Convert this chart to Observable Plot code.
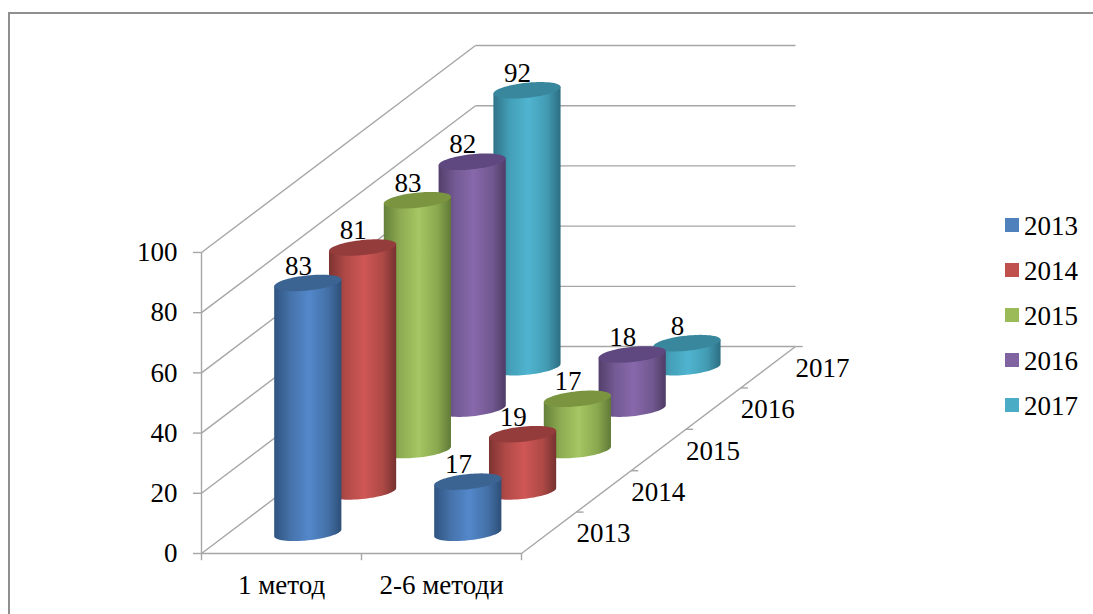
<!DOCTYPE html>
<html>
<head>
<meta charset="utf-8">
<script src="https://cdn.jsdelivr.net/npm/d3@7"></script>
<script src="https://cdn.jsdelivr.net/npm/@observablehq/plot@0.6"></script>
<style>
  html, body { margin: 0; padding: 0; background: #fff; }
  #page { position: relative; width: 1093px; height: 614px; overflow: hidden; font-family: "Liberation Serif", serif; color: #000; }
  #frame { position: absolute; left: 8px; top: 12px; width: 1100px; height: 620px; border: 2px solid #8f8f8f; box-sizing: border-box; }
  #chart { position: absolute; left: 0; top: 0; }
  #legend { position: absolute; left: 1005px; top: 203.5px; font-size: 27px; line-height: 45.1px; }
  #legend div { display: flex; align-items: center; height: 45.1px; }
  #legend i { display: block; width: 14px; height: 14px; margin-right: 5px; position: relative; top: -1.5px; }
</style>
</head>
<body>
<div id="page">
  <div id="frame"></div>
  <div id="chart"></div>
  <div id="legend"></div>
</div>
<script>
// Survey results by method group and year
const methods = ["1 метод", "2-6 методи"];
const years = ["2013", "2014", "2015", "2016", "2017"];
const oneMethod = [83, 81, 83, 82, 92];
const severalMethods = [17, 19, 17, 18, 8];
const valueTicks = [0, 20, 40, 60, 80, 100];

// Palette per year: legend colour, cap colour, shading stops across the cylinder
const baseColors = ["#4f81bd", "#c0504d", "#9bbb59", "#8064a2", "#4bacc6"];
const capColors = ["#3c6493", "#943c3b", "#7a9440", "#5f4880", "#38879c"];
const shades = [
  ["#2f5480", "#4673ab", "#5388cb", "#4470a6", "#2d4f78"],
  ["#7d3432", "#b04a48", "#cf5755", "#ad4946", "#763130"],
  ["#65803a", "#8eac52", "#a5c662", "#8aa84f", "#607a37"],
  ["#523f6b", "#745b94", "#8768ab", "#715890", "#4e3c66"],
  ["#2f7489", "#44a0b8", "#50b4d0", "#429bb3", "#2c6d81"]
];
const gridColor = "#a6a6a6";

// Oblique projection of (category, depth, value) onto the plot's x and y scales
const depthX = 0.3425;
const depthY = 13.75;
const px = (c, d) => c + d * depthX;
const py = (v, d) => v + d * depthY;
const maxDepth = years.length;

// Cylinder footprint, in category and depth units; rimSkew tilts the ellipse
const radiusC = 0.192;
const radiusD = 0.2;
const rimSkew = 0.085;
const tangent = Math.atan2(rimSkew, radiusC);
const shiftC = -0.007;

function rimPoint(c, d, v, t) {
  return {
    x: px(c + shiftC, d) + radiusC * Math.cos(t) + rimSkew * Math.sin(t),
    y: py(v, d) + radiusD * depthY * Math.sin(t)
  };
}
function capOutline(c, d, v) {
  return d3.range(0, 73).map((k) => rimPoint(c, d, v, (k / 72) * 2 * Math.PI));
}
function bodyOutline(c, d, v) {
  const lower = d3.range(0, 37).map((k) => rimPoint(c, d, 0, tangent + Math.PI + (k / 36) * Math.PI));
  return [...lower, rimPoint(c, d, v, tangent), rimPoint(c, d, v, tangent + Math.PI)];
}

const series = [oneMethod, severalMethods];
const cylinders = [];
for (let i = years.length - 1; i >= 0; --i) {
  series.forEach((values, m) => {
    cylinders.push({ c: m + 0.5, d: i + 0.5, i, value: values[i] });
  });
}

// Horizontal shading for the cylinder bodies
function gradients() {
  const defs = d3.create("svg:defs");
  shades.forEach((stops, i) => {
    const g = defs.append("linearGradient").attr("id", `body-${i}`);
    [0, 0.25, 0.52, 0.8, 1].forEach((o, k) => {
      g.append("stop").attr("offset", o).attr("stop-color", stops[k]);
    });
  });
  return defs.node();
}

const wallLevels = valueTicks.map((v) => ({ v }));
const depthTicks = d3.range(1, maxDepth + 1);
const style = { stroke: gridColor, strokeWidth: 1.4 };
const textStyle = { fontFamily: "Liberation Serif", fontSize: 27, fill: "#000" };

const chart = Plot.plot({
  width: 1093,
  height: 614,
  marginTop: 45,
  marginBottom: 61,
  marginLeft: 201,
  marginRight: 298,
  x: { type: "linear", domain: [0, px(methods.length, maxDepth)], axis: null },
  y: { type: "linear", domain: [0, py(100, maxDepth)], axis: null },
  marks: [
    gradients,
    // Side wall and back wall lines
    Plot.link(wallLevels, { x1: () => 0, y1: (r) => r.v, x2: () => px(0, maxDepth), y2: (r) => py(r.v, maxDepth), ...style }),
    Plot.link(wallLevels, { x1: () => px(0, maxDepth), y1: (r) => py(r.v, maxDepth), x2: () => px(methods.length, maxDepth), y2: (r) => py(r.v, maxDepth), ...style }),
    // Front axes and floor edge
    Plot.ruleX([0], { y1: 0, y2: 100, ...style }),
    Plot.ruleY([0], { x1: 0, x2: methods.length, ...style }),
    Plot.link([0], { x1: () => methods.length, y1: () => 0, x2: () => px(methods.length, maxDepth), y2: () => py(0, maxDepth), ...style }),
    Plot.axisY(valueTicks, { anchor: "left", tickSize: 8, tickPadding: 16, stroke: gridColor, strokeWidth: 1.4, fill: "#000", fontFamily: "Liberation Serif", fontSize: 27, label: null }),
    Plot.ruleX(d3.range(0, methods.length + 1), { y1: 0, y2: -2.4, ...style }),
    Plot.link(depthTicks, { x1: (d) => px(methods.length, d), x2: (d) => px(methods.length, d) + 0.045, y1: (d) => py(0, d), y2: (d) => py(0, d), ...style }),
    // Cylinders, back row first so nearer ones overlap them
    ...cylinders.flatMap(({ c, d, i, value }) => [
      Plot.line(bodyOutline(c, d, value), { x: "x", y: "y", fill: `url(#body-${i})`, stroke: "none" }),
      Plot.line(capOutline(c, d, value), { x: "x", y: "y", fill: capColors[i], stroke: "none" })
    ]),
    // Value labels above each cap
    Plot.text(cylinders, { x: (r) => px(r.c, r.d), y: (r) => py(r.value, r.d), text: (r) => `${r.value}`, dx: -10.5, dy: -17, ...textStyle }),
    // Category labels below the front edge
    Plot.text(methods, { x: (_, k) => k + 0.5, y: () => 0, text: (m) => m, dy: 32, ...textStyle }),
    // Year labels beside the floor edge
    Plot.text(years, { x: (_, k) => px(methods.length, k + 0.5), y: (_, k) => py(0, k + 0.5), text: (y) => y, dx: 54.5, dy: 1, ...textStyle })
  ]
});
document.getElementById("chart").append(chart);

// Legend
d3.select("#legend").selectAll("div").data(years).join("div").each(function (y, i) {
  const row = d3.select(this);
  row.append("i").style("background", baseColors[i]);
  row.append("span").text(y);
});
</script>
</body>
</html>
